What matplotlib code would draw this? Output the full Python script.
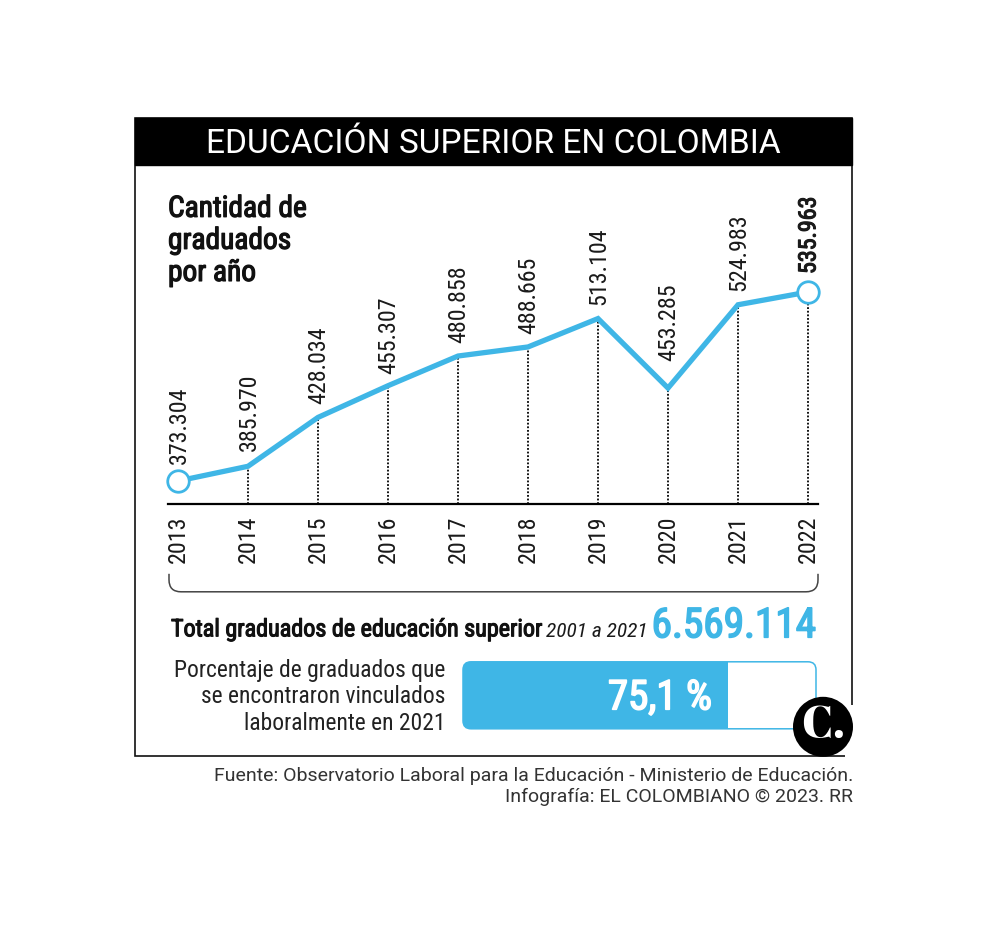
import matplotlib
matplotlib.use("Agg")
import matplotlib.pyplot as plt
import matplotlib.patheffects as pe
from matplotlib.patches import FancyBboxPatch, Rectangle, Circle, PathPatch
from matplotlib.path import Path

years = [2013, 2014, 2015, 2016, 2017, 2018, 2019, 2020, 2021, 2022]
graduates = [373304, 385970, 428034, 455307, 480858, 488665, 513104, 453285, 524983, 535963]
value_labels = ["373.304", "385.970", "428.034", "455.307", "480.858", "488.665",
                "513.104", "453.285", "524.983", "535.963"]
employed_pct = 75.1
title = "EDUCACIÓN SUPERIOR EN COLOMBIA"
subtitle_lines = ["Cantidad de", "graduados", "por año"]
employment_lines = ["Porcentaje de graduados que", "se encontraron vinculados", "laboralmente en 2021"]

BLUE = "#3fb6e6"
INK = "#1a1a1a"
NARROW = ["Roboto Condensed", "Roboto", "DejaVu Sans"]
W, H = 1000, 937
PT = 0.72


def heavy(color, w=0.7):
    return [pe.withStroke(linewidth=w, foreground=color)]


fig = plt.figure(figsize=(W / 100, H / 100), dpi=100, facecolor="white")
bg = fig.add_axes([0, 0, 1, 1])
bg.set_xlim(0, W)
bg.set_ylim(H - 0.8, -0.8)
bg.axis("off")

# frame and title band
bg.add_patch(Rectangle((135, 118), 717, 638, fc="none", ec="#111111", lw=1.2))
bg.add_patch(Rectangle((135, 118), 717, 47, fc="black", ec="black", lw=1))
bg.text(493, 143, title, color="white", ha="center", va="center",
        fontsize=33.5 * PT, family=["Roboto", "DejaVu Sans"])

# subtitle
for y, t in zip([209, 241, 273], subtitle_lines):
    bg.text(168, y, t, ha="left", va="center", fontsize=29.4 * PT,
            family=NARROW, color="#111111", path_effects=heavy("#111111", 0.9))

# data axes: baseline at y=505 px, x from 168 to 818 px
L, R, T, B = 168, 818, 191, 505
Y_FIRST, Y_LAST = 482, 293
ax = fig.add_axes([L / W, 1 - B / H, (R - L) / W, (B - T) / H])
px_per_year = 70.0
px_per_unit = (Y_FIRST - Y_LAST) / (graduates[-1] - graduates[0])
ax.set_xlim(years[0] + (L - 178) / px_per_year, years[0] + (R - 178) / px_per_year)
ax.set_ylim(graduates[0] - (B - Y_FIRST) / px_per_unit, graduates[0] + (Y_FIRST - T) / px_per_unit)
ax.patch.set_alpha(0)
for s in ["top", "left", "right"]:
    ax.spines[s].set_visible(False)
ax.spines["bottom"].set_linewidth(1.6)
ax.spines["bottom"].set_color("black")
ax.set_yticks([])
ax.set_xticks(years)
ax.set_xticklabels([str(y) for y in years], rotation=90, fontsize=24 * PT,
                   family=NARROW, color=INK)
ax.tick_params(axis="x", length=0, pad=7.5)
ymin = ax.get_ylim()[0]
ax.vlines(years[1:], ymin, graduates[1:], color="black", lw=1.3, linestyles=(0, (1, 1)), zorder=1)
ax.plot(years, graduates, color=BLUE, lw=3.8, solid_joinstyle="miter", zorder=2)
ax.plot([years[0], years[-1]], [graduates[0], graduates[-1]], ls="none", marker="o", ms=15.5,
        mfc="white", mec=BLUE, mew=2.0, zorder=3, clip_on=False)
offsets_px = [18, 16, 14, 13, 14, 14, 15, 28, 15, 18]
for i, (x, y, t, off) in enumerate(zip(years, graduates, value_labels, offsets_px)):
    last = i == len(years) - 1
    ax.annotate(t, (x, y), xytext=(0.7, off * PT), textcoords="offset points", rotation=90,
                ha="center", va="bottom", fontsize=24 * PT, family=NARROW, color=INK,
                path_effects=heavy(INK, 0.8) if last else None, annotation_clip=False)

# bracket
r = 12
xl, xr, yt, yb = 169, 818, 574, 592
verts = [(xl, yt), (xl, yb - r), (xl, yb), (xl + r, yb), (xr - r, yb), (xr, yb), (xr, yb - r), (xr, yt)]
codes = [Path.MOVETO, Path.LINETO, Path.CURVE3, Path.CURVE3, Path.LINETO, Path.CURVE3, Path.CURVE3, Path.LINETO]
bg.add_patch(PathPatch(Path(verts, codes), fc="none", ec="#444444", lw=1.1))

# total line
bg.text(171, 630, "Total graduados de educación superior", ha="left", va="center",
        fontsize=24.1 * PT, family=NARROW, color="#111111", path_effects=heavy("#111111", 0.8))
bg.text(546, 631, "2001 a 2021", ha="left", va="center", fontsize=21.4 * PT, style="italic",
        family=NARROW, color=INK)
bg.text(816, 626, "6.569.114", ha="right", va="center", fontsize=41.3 * PT,
        family=NARROW, color=BLUE, path_effects=heavy(BLUE, 1.2))

# employment text
for y, t in zip([670, 696, 723], employment_lines):
    bg.text(445, y, t, ha="right", va="center", fontsize=23.5 * PT, family=NARROW, color="#222222")

# progress bar
bx, by, bw, bh = 463, 662, 353, 67
outline = FancyBboxPatch((bx + 8, by + 8), bw - 16, bh - 16, boxstyle="round,pad=8,rounding_size=8",
                         fc="white", ec=BLUE, lw=1.1)
bg.add_patch(outline)
fill = FancyBboxPatch((bx + 8, by + 8), bw - 16, bh - 16, boxstyle="round,pad=8,rounding_size=8",
                      fc=BLUE, ec="none")
bg.add_patch(fill)
clip = Rectangle((bx, by), bw * employed_pct / 100, bh, transform=bg.transData)
fill.set_clip_path(clip)
bg.text(712, 698, "75,1 %", color="white", ha="right", va="center", fontsize=41 * PT,
        family=NARROW, path_effects=heavy("white", 1.2))

# logo
bg.add_patch(Rectangle((845, 705), 12, 55, fc="white", ec="none", zorder=4))
bg.add_patch(Circle((823, 727), 30, fc="black", ec="none", zorder=5))
bg.text(823, 726, "C.", color="white", ha="center", va="center", fontsize=46 * PT,
        family=["Abril Fatface", "Liberation Serif", "DejaVu Serif"], zorder=6)

# source
src_font = ["Roboto", "DejaVu Sans"]
bg.text(853, 775, "Fuente: Observatorio Laboral para la Educación - Ministerio de Educación.",
        ha="right", va="center", fontsize=19.5 * PT, family=src_font, color="#333333")
bg.text(853, 796, "Infografía: EL COLOMBIANO © 2023. RR", ha="right", va="center",
        fontsize=19.5 * PT, family=src_font, color="#333333")

fig.savefig("out.png", dpi=100, facecolor="white")
